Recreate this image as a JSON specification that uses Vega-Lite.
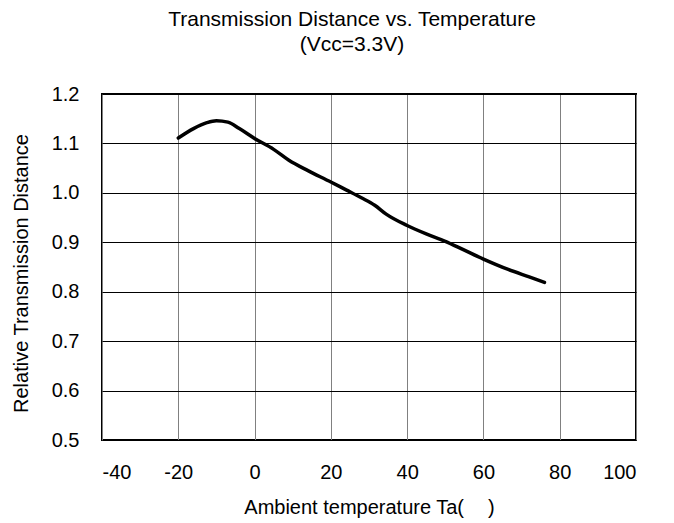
{
  "$schema": "https://vega.github.io/schema/vega-lite/v6.json",
  "width": 534,
  "height": 346,
  "autosize": {"type": "none"},
  "padding": {"left": 102, "top": 94, "right": 38, "bottom": 83},
  "background": "white",
  "title": {
    "text": ["Transmission Distance vs. Temperature", "(Vcc=3.3V)"],
    "font": "Liberation Sans",
    "fontSize": 21,
    "fontWeight": "normal",
    "color": "black",
    "lineHeight": 25,
    "offset": 29,
    "dx": -17,
    "anchor": "middle"
  },
  "config": {
    "view": {"stroke": "black", "strokeWidth": 2},
    "axis": {
      "labelFont": "Liberation Sans",
      "titleFont": "Liberation Sans",
      "labelFontSize": 20,
      "titleFontSize": 20,
      "titleFontWeight": "normal",
      "labelColor": "black",
      "titleColor": "black",
      "domain": false,
      "ticks": false
    }
  },
  "data": {
    "values": [
      {"t": -20, "d": 1.111},
      {"t": -16, "d": 1.130},
      {"t": -12.5, "d": 1.142},
      {"t": -10, "d": 1.146},
      {"t": -7, "d": 1.143},
      {"t": -4, "d": 1.130},
      {"t": 0, "d": 1.110},
      {"t": 5, "d": 1.088},
      {"t": 9, "d": 1.066},
      {"t": 14, "d": 1.045},
      {"t": 20, "d": 1.022},
      {"t": 24, "d": 1.006},
      {"t": 28, "d": 0.990},
      {"t": 31.5, "d": 0.975},
      {"t": 34.5, "d": 0.957},
      {"t": 40, "d": 0.934},
      {"t": 45, "d": 0.917},
      {"t": 50, "d": 0.902},
      {"t": 55, "d": 0.884},
      {"t": 60, "d": 0.866},
      {"t": 66.5, "d": 0.845},
      {"t": 72, "d": 0.830},
      {"t": 76, "d": 0.819}
    ]
  },
  "mark": {"type": "line", "color": "black", "strokeWidth": 3.5, "interpolate": "monotone", "strokeCap": "round"},
  "encoding": {
    "x": {
      "field": "t",
      "type": "quantitative",
      "scale": {"domain": [-40, 100], "nice": false, "zero": false},
      "axis": {
        "values": [-40, -20, 0, 20, 40, 60, 80, 100],
        "labelExpr": "datum.value < 0 ? '-' + abs(datum.value) : '' + datum.value",
        "title": "Ambient temperature Ta(\u2003\u2009)",
        "labelPadding": 22,
        "titlePadding": 15,
        "gridColor": "#808080",
        "gridWidth": 1,
        "gridOpacity": 1
      }
    },
    "y": {
      "field": "d",
      "type": "quantitative",
      "scale": {"domain": [0.5, 1.2], "nice": false, "zero": false},
      "axis": {
        "values": [0.5, 0.6, 0.7, 0.8, 0.9, 1.0, 1.1, 1.2],
        "format": ".1f",
        "title": "Relative Transmission Distance",
        "titleY": 179,
        "labelPadding": 23,
        "titlePadding": 20,
        "gridColor": "black",
        "gridWidth": 1,
        "gridOpacity": 1
      }
    }
  }
}
